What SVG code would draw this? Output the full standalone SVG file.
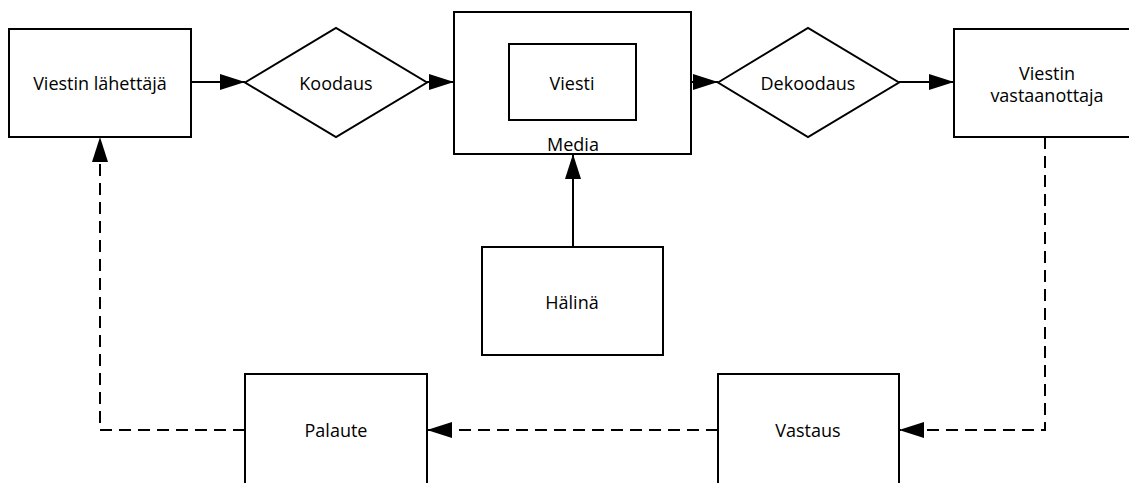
<svg xmlns="http://www.w3.org/2000/svg" width="1129" height="483" viewBox="0 0 1129 483">
<style>
.box{fill:#fff;stroke:#000;stroke-width:2}
.lbl{font-family:"Open Sans","Noto Sans",sans-serif;font-size:18px;fill:#000;text-anchor:middle}
.ln{fill:none;stroke:#000;stroke-width:2}
.dash{stroke-dasharray:12 7}
</style>
<defs>
<marker id="arr" markerUnits="userSpaceOnUse" markerWidth="26" markerHeight="18" refX="25" refY="8" orient="auto">
<path d="M0,0 L25,8 L0,16 Z" fill="#000"/>
</marker>
</defs>
<rect width="1129" height="483" fill="#fff"/>
<g id="connectors">
<line class="ln" x1="191" y1="82" x2="245" y2="82" marker-end="url(#arr)"/>
<line class="ln" x1="427" y1="82" x2="454" y2="82" marker-end="url(#arr)"/>
<line class="ln" x1="691" y1="82" x2="718" y2="82" marker-end="url(#arr)"/>
<line class="ln" x1="899" y1="82" x2="954" y2="82" marker-end="url(#arr)"/>
<line class="ln" x1="573" y1="247" x2="573" y2="154" marker-end="url(#arr)"/>
<polyline class="ln dash" points="1045,137 1045,430 899,430" marker-end="url(#arr)"/>
<line class="ln dash" x1="718" y1="430" x2="427" y2="430" marker-end="url(#arr)"/>
<polyline class="ln dash" points="245,430 100,430 100,137" marker-end="url(#arr)"/>
</g>
<g id="lahettaja">
<rect class="box" x="9" y="29" width="182" height="108"/>
<text class="lbl" x="100" y="90">Viestin lähettäjä</text>
</g>
<g id="koodaus">
<polygon class="box" points="245,82.5 336,28 427,82.5 336,137"/>
<text class="lbl" x="336" y="90">Koodaus</text>
</g>
<g id="media">
<rect class="box" x="454" y="12" width="237" height="142"/>
<text class="lbl" x="573" y="151">Media</text>
</g>
<g id="viesti">
<rect class="box" x="509" y="44" width="127" height="76"/>
<text class="lbl" x="572" y="90">Viesti</text>
</g>
<g id="dekoodaus">
<polygon class="box" points="718,82.5 808,28 899,82.5 808,137"/>
<text class="lbl" x="808" y="90">Dekoodaus</text>
</g>
<g id="vastaanottaja">
<rect class="box" x="954" y="29" width="184" height="108"/>
<text class="lbl" x="1047" y="80">Viestin</text>
<text class="lbl" x="1047" y="102">vastaanottaja</text>
</g>
<g id="halina">
<rect class="box" x="482" y="247" width="181" height="108"/>
<text class="lbl" x="572" y="309">Hälinä</text>
</g>
<g id="palaute">
<rect class="box" x="245" y="374" width="182" height="110"/>
<text class="lbl" x="336" y="437">Palaute</text>
</g>
<g id="vastaus">
<rect class="box" x="718" y="374" width="181" height="110"/>
<text class="lbl" x="808" y="437">Vastaus</text>
</g>
</svg>
